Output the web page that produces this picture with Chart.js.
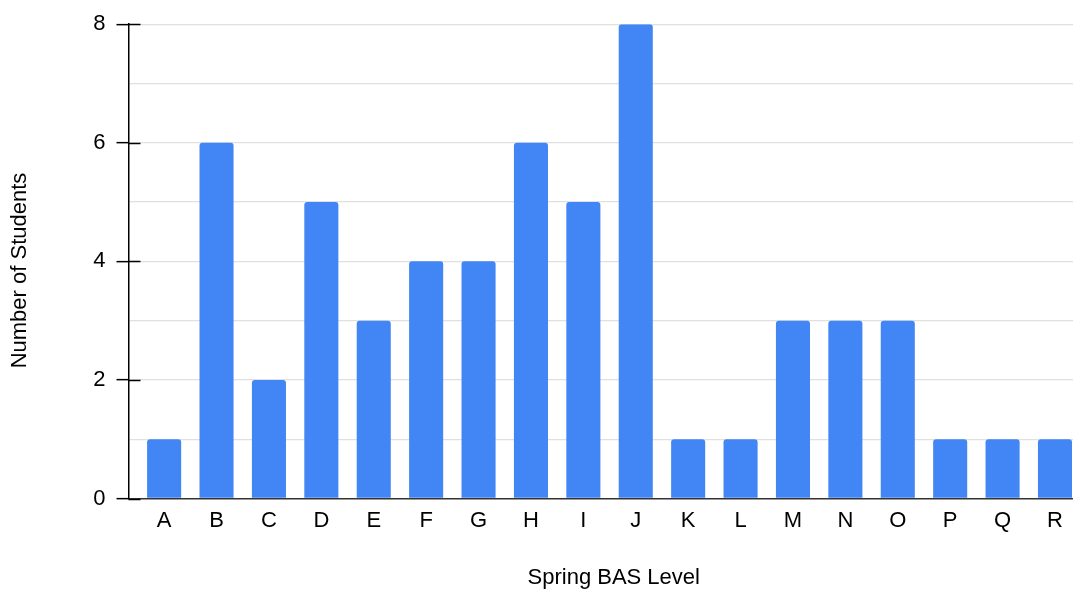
<!DOCTYPE html>
<html>
<head>
<meta charset="utf-8">
<script src="https://cdn.jsdelivr.net/npm/chart.js@4.4.1/dist/chart.umd.min.js"></script>
<style>
  body { margin: 0; background: #fff; overflow: hidden; }
</style>
</head>
<body>
<canvas id="grafico" width="1099" height="593"></canvas>
<script>
// Spring BAS levels and student counts
const niveles = ["A", "B", "C", "D", "E", "F", "G", "H", "I", "J", "K", "L", "M", "N", "O", "P", "Q", "R"]
const cantidades = [1, 6, 2, 5, 3, 4, 4, 6, 5, 8, 1, 1, 3, 3, 3, 1, 1, 1]
const marcasY = [0, 2, 4, 6, 8]

const fuente = { family: "'Liberation Sans', Arial, sans-serif", size: 22 }

// short black stubs of the y ticks inside the plot
const ticksInternos = {
  id: "ticksInternos",
  afterDraw(chart) {
    const ctx = chart.ctx
    const y = chart.scales.y
    const left = chart.chartArea.left
    ctx.save()
    ctx.strokeStyle = "#000"
    ctx.lineWidth = 1.5
    marcasY.forEach((v) => {
      const py = Math.round(y.getPixelForValue(v)) + 0.5
      ctx.beginPath()
      ctx.moveTo(left, py)
      ctx.lineTo(left + 12, py)
      ctx.stroke()
    })
    ctx.restore()
  }
}

new Chart(document.getElementById("grafico"), {
  type: "bar",
  data: {
    datasets: [
      {
        label: "Number of Students",
        data: cantidades.map((c, i) => ({ x: i, y: c })),
        backgroundColor: "#4285f4",
        borderWidth: 0,
        borderRadius: 3,
        barPercentage: 0.65,
        categoryPercentage: 1,
      },
    ],
  },
  options: {
    responsive: false,
    animation: false,
    layout: { padding: { top: 9, left: 0, right: 0, bottom: 0 } },
    plugins: { legend: { display: false }, tooltip: { enabled: false } },
    scales: {
      x: {
        type: "linear",
        offset: false,
        min: -0.68,
        max: 17.84,
        afterFit: (s) => { s.height = 94.5 },
        grid: { display: false, drawTicks: false },
        border: { display: true, color: "#333", width: 1.5 },
        ticks: {
          stepSize: 1,
          includeBounds: false,
          autoSkip: false,
          maxRotation: 0,
          padding: 9,
          color: "#000",
          font: fuente,
          callback: (v) => (Number.isInteger(v) ? niveles[v] : ""),
        },
        title: {
          display: true,
          text: "Spring BAS Level",
          color: "#000",
          font: fuente,
          padding: { top: 20, bottom: 2 },
        },
      },
      y: {
        min: 0,
        max: 8,
        afterFit: (s) => { s.width = 128.5 },
        grid: {
          color: (c) => (c.tick.value === 0 ? "rgba(0,0,0,0)" : "#e0e0e0"),
          lineWidth: 1.3,
          tickLength: 12,
          tickColor: (c) => (c.tick.value % 2 === 0 ? "#000" : "rgba(0,0,0,0)"),
          tickWidth: 1.5,
        },
        border: { display: true, color: "#000", width: 1.5 },
        ticks: {
          stepSize: 1,
          padding: 11,
          color: "#000",
          font: fuente,
          callback: (v) => (v % 2 === 0 ? v : ""),
        },
        title: {
          display: true,
          text: "Number of Students   ",
          color: "#000",
          font: fuente,
          padding: { top: 7, bottom: 30 },
        },
      },
    },
  },
  plugins: [ticksInternos],
})
</script>
</body>
</html>
